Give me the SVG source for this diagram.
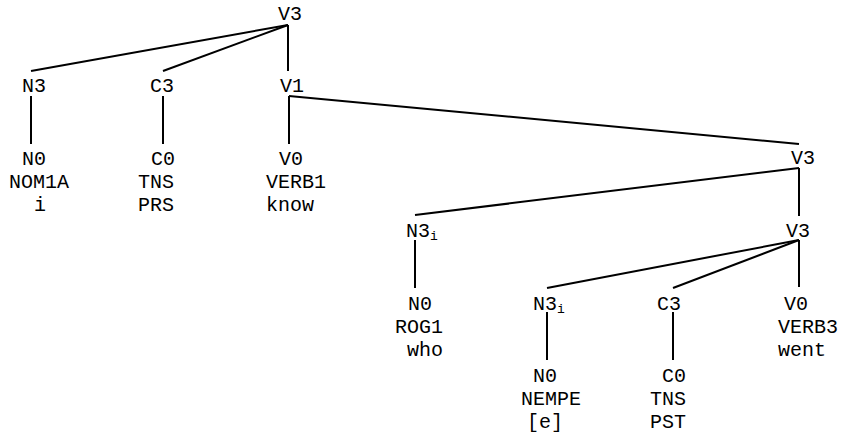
<svg xmlns="http://www.w3.org/2000/svg" width="841" height="435" viewBox="0 0 841 435">
<style>
text{font-family:"Liberation Mono","Courier New",monospace;font-size:20px;fill:#000}
.sub{font-size:13px}
.e line{stroke:#000;stroke-width:2;stroke-linecap:butt}
</style>
<rect width="841" height="435" fill="#fff"/>
<g id="edges" class="e">
<line x1="288" y1="25" x2="31" y2="71"/>
<line x1="288" y1="25" x2="163" y2="71"/>
<line x1="288" y1="25" x2="288" y2="71"/>
<line x1="31" y1="96" x2="31" y2="144"/>
<line x1="163" y1="96" x2="163" y2="144"/>
<line x1="289" y1="96" x2="289" y2="144"/>
<line x1="289" y1="96" x2="799" y2="144"/>
<line x1="799" y1="168" x2="415" y2="215"/>
<line x1="799" y1="168" x2="799" y2="216"/>
<line x1="415" y1="240" x2="415" y2="288"/>
<line x1="799" y1="240" x2="547" y2="288"/>
<line x1="799" y1="240" x2="673" y2="288"/>
<line x1="799" y1="240" x2="799" y2="287"/>
<line x1="547" y1="312" x2="547" y2="360"/>
<line x1="673" y1="312" x2="673" y2="360"/>
</g>
<g id="n-v3-top"><text x="278" y="20">V3</text></g>
<g id="n-n3-a"><text x="22" y="92">N3</text></g>
<g id="n-c3-a"><text x="150" y="92">C3</text></g>
<g id="n-v1"><text x="280" y="92">V1</text></g>
<g id="n-n0-a"><text x="22" y="165">N0</text><text x="9" y="188">NOM1A</text><text x="34" y="211">i</text></g>
<g id="n-c0-a"><text x="151" y="165">C0</text><text x="138" y="188">TNS</text><text x="138" y="211">PRS</text></g>
<g id="n-v0-a"><text x="279" y="165">V0</text><text x="266" y="188">VERB1</text><text x="266" y="211">know</text></g>
<g id="n-v3-b"><text x="791" y="164">V3</text></g>
<g id="n-n3i-a"><text x="406" y="237">N3<tspan class="sub" dy="3">i</tspan></text></g>
<g id="n-v3-c"><text x="786" y="237">V3</text></g>
<g id="n-n0-b"><text x="408" y="310">N0</text><text x="395" y="333">ROG1</text><text x="407" y="356">who</text></g>
<g id="n-n3i-b"><text x="533" y="310">N3<tspan class="sub" dy="3">i</tspan></text></g>
<g id="n-c3-b"><text x="657" y="310">C3</text></g>
<g id="n-v0-b"><text x="784" y="310">V0</text><text x="778" y="333">VERB3</text><text x="778" y="356">went</text></g>
<g id="n-n0-c"><text x="533" y="382">N0</text><text x="521" y="405">NEMPE</text><text x="527" y="428">[e]</text></g>
<g id="n-c0-b"><text x="662" y="382">C0</text><text x="650" y="405">TNS</text><text x="650" y="428">PST</text></g>
</svg>
